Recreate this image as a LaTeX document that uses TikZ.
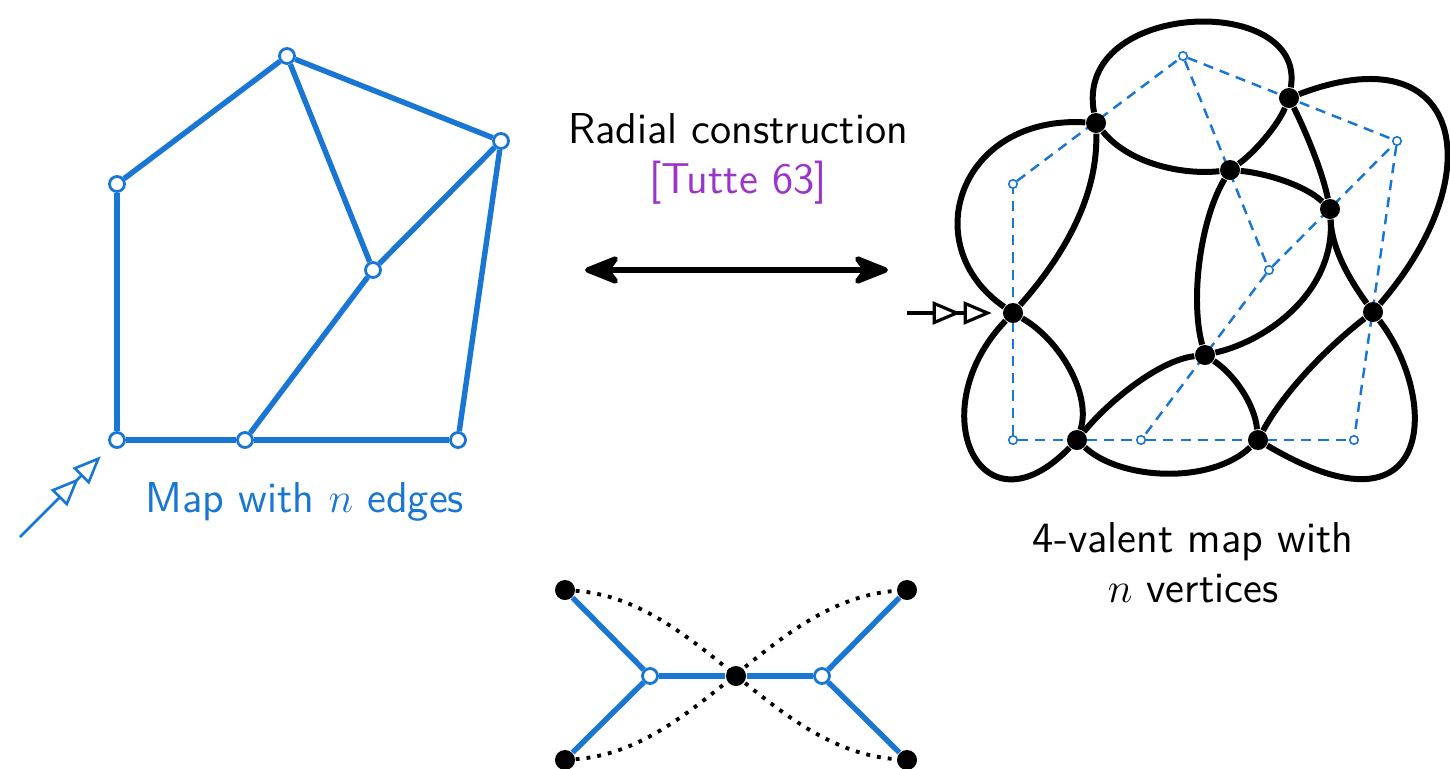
\documentclass[tikz,border=0pt]{standalone}
\usetikzlibrary{arrows.meta}
\definecolor{mapblue}{RGB}{25,118,210}
\definecolor{tuttepurple}{RGB}{154,53,201}
\pgfdeclarelayer{back}
\pgfsetlayers{back,main}

\begin{document}
\begin{tikzpicture}[x=0.01cm, y=-0.01cm,
    mapedge/.style={mapblue, line width=1.55pt},
    mapvert/.style={circle, draw=mapblue, fill=white, line width=0.8pt, inner sep=0pt, minimum size=0.15cm},
    copyedge/.style={mapblue, line width=0.7pt, dash pattern=on 2.9pt off 2pt},
    copyvert/.style={circle, draw=mapblue, fill=white, line width=0.45pt, inner sep=0pt, minimum size=0.085cm},
    quadedge/.style={black, line width=1.7pt},
    quadvert/.style={circle, fill=black, inner sep=0pt, minimum size=0.2cm},
    rootarrow/.style={line width=0.9pt, -{Triangle[fill=white,length=8pt,width=6.5pt,sep=0.8pt]Triangle[fill=white,length=8pt,width=6.5pt]}},
    lbl/.style={font=\sffamily\fontsize{12.3}{14.3}\selectfont, align=center}]
    \useasboundingbox (0,0) rectangle (1450,769);

    % map with n edges, and its copy under the 4-valent map
    \foreach \n/\x/\y in {a/117/440, b/245/440, c/458/440, d/117/184, e/287/56, f/501/141, g/373/270} {
        \node[mapvert] (l\n) at (\x,\y) {};
        \node[copyvert] (c\n) at (\x+896,\y) {};
    }
    \foreach \u/\v in {a/b, b/c, a/d, d/e, e/f, e/g, g/f, g/b, f/c} {
        \draw[mapedge] (l\u) -- (l\v);
        \begin{pgfonlayer}{back}
            \draw[copyedge] (c\u) -- (c\v);
        \end{pgfonlayer}
    }
    \coordinate (lstart) at (20,537);
    \draw[rootarrow, mapblue, line width=0.75pt, shorten >=4pt] (lstart) -- (la);
    \node[lbl, mapblue, anchor=base] (lname) at (305,512) {Map with $n$ edges};

    % radial construction
    \node[lbl, anchor=base] (rname) at (738,143) {Radial construction};
    \node[lbl, tuttepurple, anchor=base] (rcite) at (738,193) {[Tutte 63]};
    \coordinate (bijL) at (585,270);
    \coordinate (bijR) at (888,270);
    \draw[line width=1.5pt, {Stealth[length=12pt,width=9.5pt,inset=3.5pt,round]}-{Stealth[length=12pt,width=9.5pt,inset=3.5pt,round]}] (bijL) -- (bijR);

    % 4-valent map
    \foreach \n/\x/\y in {1/1096/123, 2/1289/98, 3/1230/170, 4/1330/209, 5/1013/313,
                          6/1373/312, 7/1205/355, 8/1077/440, 9/1258/440} {
        \node[quadvert] (q\n) at (\x,\y) {};
    }
    \draw[quadedge] (q1) .. controls (1073,0) and (1307,-8) .. (q2);
    \draw[quadedge] (q1) .. controls (1130,165) and (1185,175) .. (q3);
    \draw[quadedge] (q1) .. controls (1098,200) and (1060,260) .. (q5);
    \draw[quadedge] (q1) .. controls (960,115) and (915,245) .. (q5);
    \draw[quadedge] (q5) .. controls (920,410) and (980,540) .. (q8);
    \draw[quadedge] (q5) .. controls (1060,340) and (1092,395) .. (q8);
    \draw[quadedge] (q8) .. controls (1120,480) and (1210,485) .. (q9);
    \draw[quadedge] (q8) .. controls (1110,400) and (1160,360) .. (q7);
    \draw[quadedge] (q7) .. controls (1235,375) and (1255,405) .. (q9);
    \draw[quadedge] (q3) .. controls (1200,220) and (1190,300) .. (q7);
    \draw[quadedge] (q7) .. controls (1270,340) and (1335,290) .. (q4);
    \draw[quadedge] (q3) .. controls (1265,173) and (1305,185) .. (q4);
    \draw[quadedge] (q3) .. controls (1255,152) and (1278,125) .. (q2);
    \draw[quadedge] (q2) .. controls (1305,130) and (1322,170) .. (q4);
    \draw[quadedge] (q2) .. controls (1462,32) and (1494,172) .. (q6);
    \draw[quadedge] (q4) .. controls (1332,250) and (1350,280) .. (q6);
    \draw[quadedge] (q6) .. controls (1330,345) and (1285,390) .. (q9);
    \draw[quadedge] (q6) .. controls (1440,400) and (1435,545) .. (q9);
    \coordinate (rstart) at (907,313);
    \draw[rootarrow, shorten >=3pt] (rstart) -- (q5);
    \node[lbl] (qname) at (1193,563) {4-valent map with\\$n$ vertices};

    % local picture: one edge, one vertex
    \node[quadvert] (tl) at (565,590) {};
    \node[quadvert] (tr) at (907,590) {};
    \node[quadvert] (bl) at (565,760) {};
    \node[quadvert] (br) at (907,760) {};
    \node[quadvert] (cen) at (736,676) {};
    \node[mapvert] (lw) at (650,676) {};
    \node[mapvert] (rw) at (822,676) {};
    \draw[mapedge] (tl) -- (lw);
    \draw[mapedge] (bl) -- (lw);
    \draw[mapedge] (lw) -- (cen);
    \draw[mapedge] (cen) -- (rw);
    \draw[mapedge] (rw) -- (tr);
    \draw[mapedge] (rw) -- (br);
    \begin{pgfonlayer}{back}
        \draw[line width=1.1pt, dotted] (tl) .. controls (700,600) and (770,750) .. (br);
        \draw[line width=1.1pt, dotted] (bl) .. controls (700,750) and (770,600) .. (tr);
    \end{pgfonlayer}
\end{tikzpicture}
\end{document}
